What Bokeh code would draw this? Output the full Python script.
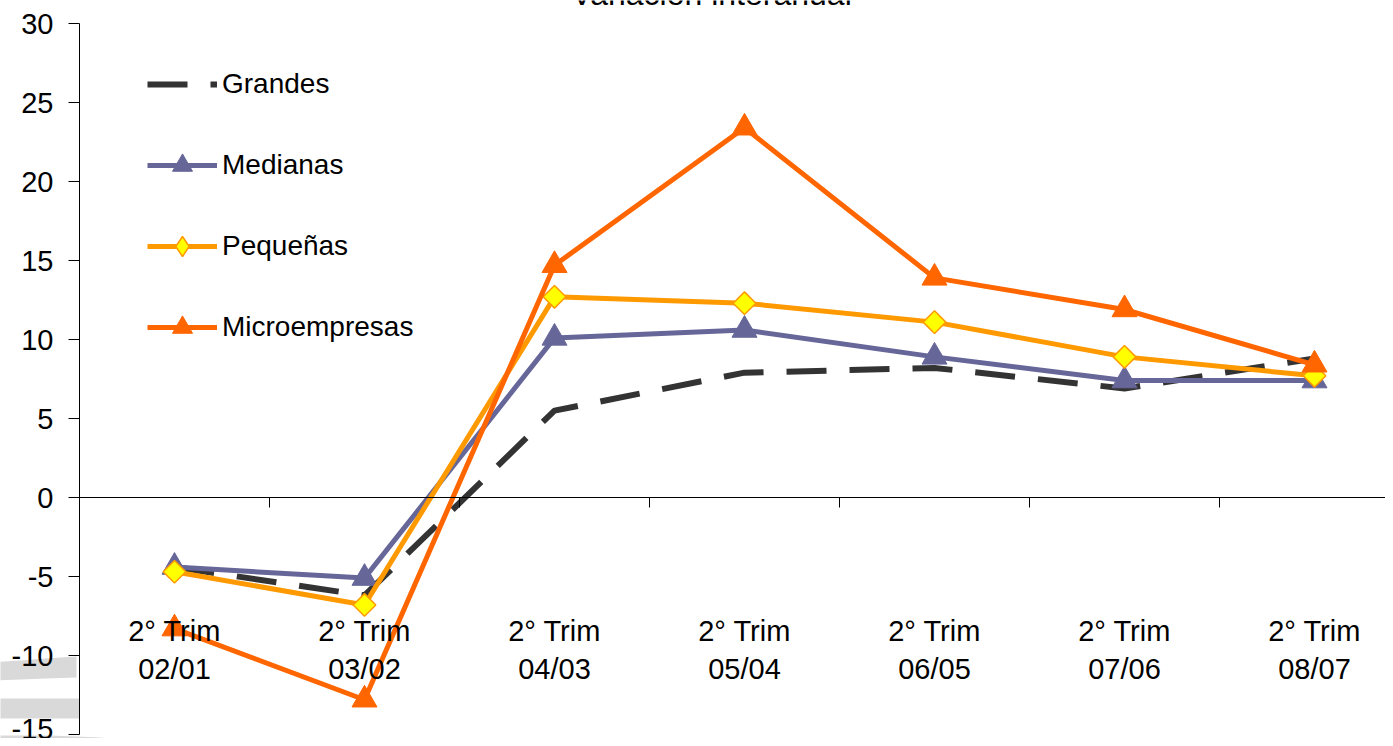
import numpy as np
from bokeh.plotting import figure
from bokeh.models import (Range1d, LinearAxis, FixedTicker, ColumnDataSource,
                          Legend, LegendItem, PolyAnnotation, Label)
from bokeh.embed import file_html
from bokeh.resources import INLINE

# ---- data ----
categories = ["2° Trim\n02/01", "2° Trim\n03/02", "2° Trim\n04/03", "2° Trim\n05/04",
              "2° Trim\n06/05", "2° Trim\n07/06", "2° Trim\n08/07"]
grandes = [-4.4, -6.2, 5.5, 7.9, 8.2, 6.9, 8.8]
medianas = [-4.4, -5.1, 10.1, 10.6, 8.9, 7.4, 7.4]
pequenas = [-4.7, -6.8, 12.7, 12.3, 11.1, 8.9, 7.7]
micro = [-8.3, -12.8, 14.7, 23.4, 13.9, 11.9, 8.4]
y_ticks = [-15, -10, -5, 0, 5, 10, 15, 20, 25, 30]
title_text = "Variación interanual"

FONT = "Liberation Sans"
W, H = 1385, 738
AXIS_X, TOP_Y, BOTTOM_Y = 79, 23, 734      # canvas pixels of the plot box
CAT_PX = 190.0

n = len(categories)
xc = list(range(1, n + 1))
ymin, ymax = min(y_ticks), max(y_ticks)
py = (BOTTOM_Y - TOP_Y) / (ymax - ymin)
x_start = 0.5 - AXIS_X / CAT_PX
x_end = x_start + W / CAT_PX
y_start = ymin - (H - BOTTOM_Y) / py
y_end = ymax + TOP_Y / py

p = figure(width=W, height=H, output_backend="svg", toolbar_location=None,
           x_axis_type=None, y_axis_type=None,
           x_range=Range1d(x_start, x_end), y_range=Range1d(y_start, y_end),
           min_border=0)
p.outline_line_color = None
p.grid.visible = False
p.background_fill_color = "white"
p.border_fill_color = "white"

# decorative gray bands (logo fragment), behind everything
band_color = "#d9d9d9"
bands = [
    ([-10, 20, 45, 76, 76, 45, 20, -10], [662, 660, 658, 656, 677, 678, 679, 680]),
    ([-10, 79, 79, -10], [698, 698, 718, 718]),
    ([-10, 50, 100, 140, 170, 170, -10], [735, 735, 737, 741, 746, 750, 750]),
]
for bx, by in bands:
    p.add_layout(PolyAnnotation(xs=bx, ys=by, xs_units="canvas", ys_units="canvas",
                                fill_color=band_color, fill_alpha=1.0,
                                line_color=None, level="underlay"))

# y axis
ya = LinearAxis(fixed_location=0.5, bounds=(ymin, ymax),
                ticker=FixedTicker(ticks=y_ticks),
                major_label_overrides={t: str(t) for t in y_ticks})
ya.major_tick_out = 11
ya.major_tick_in = 0
ya.minor_tick_out = 0
ya.minor_tick_in = 0
ya.axis_line_color = "black"
ya.major_tick_line_color = "black"
ya.major_label_standoff = 15
ya.major_label_text_font = FONT
ya.major_label_text_font_size = "29px"
ya.major_label_text_color = "black"
p.add_layout(ya, "left")

# x axis crossing at zero
xa = LinearAxis(fixed_location=0, bounds=(0.5, x_end),
                ticker=FixedTicker(ticks=xc, minor_ticks=[i + 0.5 for i in xc[:-1]]),
                major_label_overrides={i: c for i, c in zip(xc, categories)})
xa.major_tick_out = 0
xa.major_tick_in = 0
xa.minor_tick_out = 10
xa.minor_tick_in = 0
xa.minor_tick_line_color = "black"
xa.axis_line_color = "black"
xa.major_label_standoff = 107
xa.major_label_text_font = FONT
xa.major_label_text_font_size = "29px"
xa.major_label_text_color = "black"
p.add_layout(xa, "below")

# series
r_g = p.line(xc, grandes, line_color="#333333", line_width=6, line_dash="40 23")

r_m_l = p.line(xc, medianas, line_color="#666699", line_width=5)
r_m_s = p.scatter(xc, medianas, marker="triangle", size=25,
                  fill_color="#666699", line_color="#666699")

r_p_l = p.line(xc, pequenas, line_color="#FF9900", line_width=5)
r_p_s = p.scatter(xc, pequenas, marker="square", size=16, angle=np.pi / 4,
                  fill_color="#FFFF00", line_color="#FF9900", line_width=1.5)
# legend-only proxy for the diamond marker (no visible point in the plot)
proxy = ColumnDataSource(data=dict(x=[np.nan], y=[np.nan]))
r_p_leg = p.scatter("x", "y", source=proxy, marker="diamond",
                    fill_color="#FFFF00", line_color="#FF9900", line_width=1.5)

r_u_l = p.line(xc, micro, line_color="#FF6600", line_width=5)
r_u_s = p.scatter(xc, micro, marker="triangle", size=25,
                  fill_color="#FF6600", line_color="#FF6600")

legend = Legend(items=[
    LegendItem(label="Grandes", renderers=[r_g]),
    LegendItem(label="Medianas", renderers=[r_m_l, r_m_s]),
    LegendItem(label="Pequeñas", renderers=[r_p_l, r_p_leg]),
    LegendItem(label="Microempresas", renderers=[r_u_l, r_u_s]),
], location=(147, 386))
legend.glyph_width = 70
legend.glyph_height = 50
legend.label_height = 50
legend.label_standoff = 5
legend.spacing = 31
legend.padding = 0
legend.margin = 0
legend.border_line_color = None
legend.background_fill_alpha = 0
legend.label_text_font = FONT
legend.label_text_font_size = "28px"
legend.label_text_color = "black"
p.add_layout(legend, "center")

# title, clipped at the very top as in the original
p.add_layout(Label(x=711, y=-7, x_units="canvas", y_units="canvas", text=title_text,
                   text_align="center", text_baseline="alphabetic",
                   text_font=FONT, text_font_size="32px", text_color="black"))

open("out.html", "w").write(file_html(p, INLINE))
